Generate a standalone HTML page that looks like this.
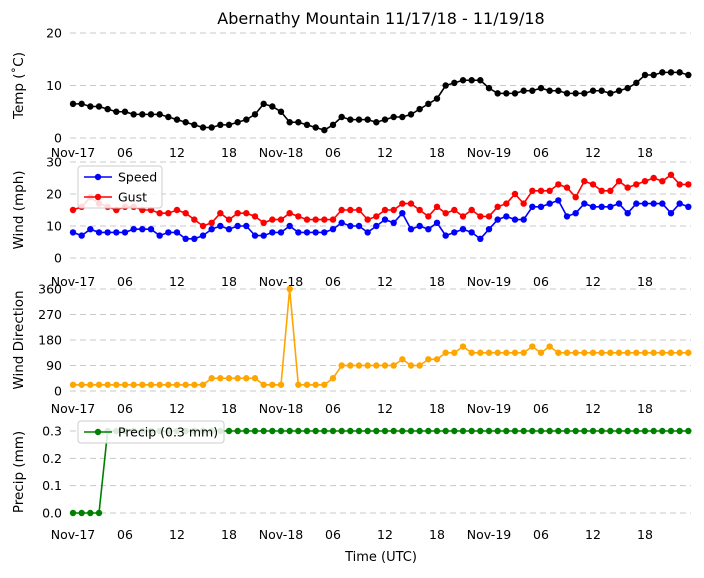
<!DOCTYPE html>
<html><head><meta charset="utf-8"><style>
body{margin:0;background:#fff;}
svg text{font-family:"DejaVu Sans","Liberation Sans",sans-serif;}
</style></head><body>
<svg id="chart" width="704" height="573" viewBox="0 0 704 573" xmlns="http://www.w3.org/2000/svg">
<text x="381" y="24" font-size="16" text-anchor="middle">Abernathy Mountain 11/17/18 - 11/19/18</text>
<text x="381" y="561" font-size="13" text-anchor="middle">Time (UTC)</text>
<g id="plots"></g>
</svg>
<script>
const hoursTicks = [0,6,12,18,24,30,36,42,48,54,60,66];
const tickLabels = ["Nov-17","06","12","18","Nov-18","06","12","18","Nov-19","06","12","18"];
const temp = [6.5,6.5,6,6,5.5,5,5,4.5,4.5,4.5,4.5,4,3.5,3,2.5,2,2,2.5,2.5,3,3.5,4.5,6.5,6,5,3,3,2.5,2,1.5,2.5,4,3.5,3.5,3.5,3,3.5,4,4,4.5,5.5,6.5,7.5,10,10.5,11,11,11,9.5,8.5,8.5,8.5,9,9,9.5,9,9,8.5,8.5,8.5,9,9,8.5,9,9.5,10.5,12,12,12.5,12.5,12.5,12];
const speed = [8,7,9,8,8,8,8,9,9,9,7,8,8,6,6,7,9,10,9,10,10,7,7,8,8,10,8,8,8,8,9,11,10,10,8,10,12,11,14,9,10,9,11,7,8,9,8,6,9,12,13,12,12,16,16,17,18,13,14,17,16,16,16,17,14,17,17,17,17,14,17,16];
const gust = [15,16,19,17,16,15,16,16,15,15,14,14,15,14,12,10,11,14,12,14,14,13,11,12,12,14,13,12,12,12,12,15,15,15,12,13,15,15,17,17,15,13,16,14,15,13,15,13,13,16,17,20,17,21,21,21,23,22,19,24,23,21,21,24,22,23,24,25,24,26,23,23];
const dir = [22,22,22,22,22,22,22,22,22,22,22,22,22,22,22,22,45,45,45,45,45,45,22,22,22,360,22,22,22,22,45,90,90,90,90,90,90,90,112,90,90,112,112,135,135,157,135,135,135,135,135,135,135,157,135,157,135,135,135,135,135,135,135,135,135,135,135,135,135,135,135,135];
const precip = [0,0,0,0].concat(Array(68).fill(0.3));

const NS="http://www.w3.org/2000/svg";
const g=document.getElementById('plots');
function el(t,a,p){const e=document.createElementNS(NS,t);for(const k in a)e.setAttribute(k,a[k]);(p||g).appendChild(e);return e;}
const xs=h=>73+h*(52/6);
const panels=[
 {name:'temp',y0:138,y1:33,min:0,max:20,ticks:[0,10,20],labels:["0","10","20"],lab:"Temp (˚C)",xl:157,series:[{d:temp,c:'#000',n:'temp'}]},
 {name:'wind',y0:258,y1:162,min:0,max:30,ticks:[0,10,20,30],labels:["0","10","20","30"],lab:"Wind (mph)",xl:286,series:[{d:speed,c:'#0000ff',n:'speed'},{d:gust,c:'#ff0000',n:'gust'}]},
 {name:'direction',y0:391,y1:289,min:0,max:360,ticks:[0,90,180,270,360],labels:["0","90","180","270","360"],lab:"Wind Direction",xl:413,series:[{d:dir,c:'#ffa500',n:'direction'}]},
 {name:'precip',y0:513,y1:431,min:0,max:0.3,ticks:[0,0.1,0.2,0.3],labels:["0.0","0.1","0.2","0.3"],lab:"Precip (mm)",xl:539,series:[{d:precip,c:'#008000',n:'precip'}]}
];
panels.forEach(p=>{
 const ys=v=>p.y0-(v-p.min)/(p.max-p.min)*(p.y0-p.y1);
 const pg=el('g',{});
 
 
 p.ticks.forEach((t,i)=>{
  const l=el('line',{x1:70,x2:691,y1:ys(t),y2:ys(t),stroke:'#c8c8c8','stroke-dasharray':'6,4','stroke-width':1},pg);
  
  
  const tx=el('text',{x:62,y:ys(t)+4.5,'font-size':12.5,'text-anchor':'end'},pg);
  tx.textContent=p.labels[i];
  
  
 });
 hoursTicks.forEach((h,i)=>{
  const tx=el('text',{x:xs(h),y:p.xl,'font-size':12.5,'text-anchor':'middle'},pg);
  tx.textContent=tickLabels[i];
  
  
 });
 const yc=(p.y0+p.y1)/2;
 const yl=el('text',{x:0,y:0,'font-size':13.5,'text-anchor':'middle',transform:`translate(23,${yc}) rotate(-90)`},pg);
 yl.textContent=p.lab;
 
 
 p.series.forEach(s=>{
  const pts=s.d.map((v,i)=>xs(i)+','+ys(v)).join(' ');
  const pl=el('polyline',{points:pts,fill:'none',stroke:s.c,'stroke-width':1.6},pg);
  
  
  s.d.forEach((v,i)=>{
   const c=el('circle',{cx:xs(i),cy:ys(v),r:3.2,fill:s.c},pg);
   
   
  });
 });
});
// legends
function legend(x,y,w,h,items){
 const lg=el('g',{});
 
 
 el('rect',{x:x,y:y,width:w,height:h,rx:3,fill:'#fff','fill-opacity':0.85,stroke:'#ccc'},lg);
 items.forEach((it,i)=>{
  const yy=y+11+i*20;
  const e=el('g',{},lg);
  
  
  el('line',{x1:x+6,x2:x+34,y1:yy,y2:yy,stroke:it.c,'stroke-width':1.6},e);
  el('circle',{cx:x+20,cy:yy,r:3.2,fill:it.c},e);
  const t=el('text',{x:x+40,y:yy+4.5,'font-size':12.5},e);
  t.textContent=it.t;
 });
}
legend(78,166,84,42,[{c:'#0000ff',t:'Speed'},{c:'#ff0000',t:'Gust'}]);
legend(78,421,146,22,[{c:'#008000',t:'Precip (0.3 mm)'}]);
</script>
</body></html>
